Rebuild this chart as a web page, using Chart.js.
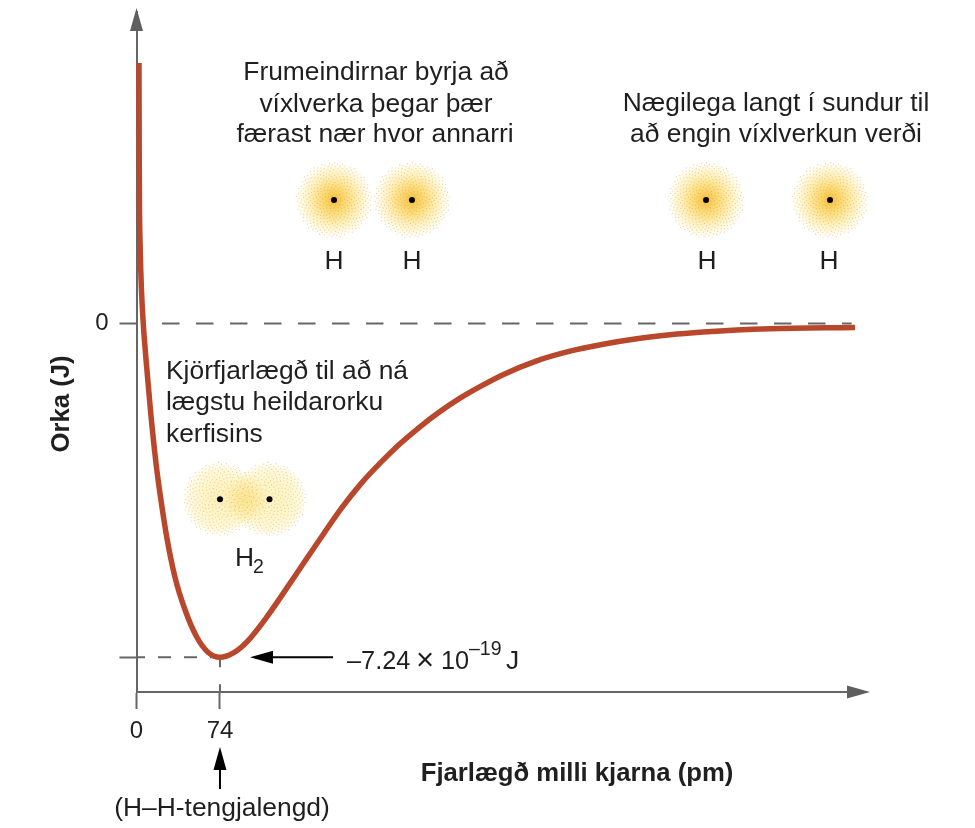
<!DOCTYPE html>
<html>
<head>
<meta charset="utf-8">
<title>Orka</title>
<script src="https://cdn.jsdelivr.net/npm/chart.js@4/dist/chart.umd.min.js"></script>
<style>
  html, body { margin: 0; padding: 0; background: #fff; }
  canvas { display: block; }
</style>
</head>
<body>
<canvas id="grafOrka" width="975" height="828"></canvas>
<script>
// gildi lesin af myndinni
var fjarlaegd = [2.2, 2.4, 2.6, 3.3, 4.4, 6, 9, 12.6, 17.3, 20.8, 26.8, 34.1, 43, 53.4, 63.4, 74, 85.5, 97.7, 115.4, 133.2, 149.4, 165.6, 181.9, 198.1, 215.9, 233.6, 251.3, 269.1, 286.8, 304.5, 324.9, 354.8, 384.3, 413.6, 443.4, 473, 502.2, 532.1, 561.6, 637];
var orka = [5.65, 3.76, 2.68, 1.6, 0.73, 0, -0.94, -1.94, -3.03, -3.68, -4.63, -5.5, -6.21, -6.8, -7.13, -7.24, -7.15, -6.91, -6.37, -5.74, -5.15, -4.57, -4, -3.5, -3.03, -2.61, -2.24, -1.91, -1.62, -1.37, -1.11, -0.81, -0.6, -0.45, -0.33, -0.245, -0.185, -0.14, -0.113, -0.085];
var xTicks = [0, 74];
var yTicks = [0, -7.24];
var minOrka = -7.24;
var xMax = 646.7, yMax = 6.757, yMin = -7.993;
var nullLinaX = [22.6, 634];
var kjarniX = [175.1, 244.2, 504.9, 614.8, 74, 117.9];
var kjarniY = [2.68, 2.68, 2.68, 2.68, -3.81, -3.81];

function pts(xs, ys) {
    return xs.map(function (x, i) { return { x: x, y: ys[i] }; });
}

function ski(ctx, cx, cy, r, midja, mid2, dots) {
    // ský kringum kjarna
    var g = ctx.createRadialGradient(cx, cy, 0, cx, cy, r);
    g.addColorStop(0, midja);
    g.addColorStop(0.45, mid2);
    g.addColorStop(0.8, 'rgba(254,242,185,0.5)');
    g.addColorStop(1, 'rgba(255,250,225,0)');
    ctx.fillStyle = g;
    ctx.beginPath();
    ctx.arc(cx, cy, r, 0, Math.PI * 2);
    ctx.fill();
    ctx.fillStyle = 'rgba(205,140,50,0.4)';
    for (var i = 1; i < dots; i++) {
        var d = r * 0.97 * Math.sqrt(i / dots);
        var a = i * 2.39996;
        ctx.beginPath();
        ctx.arc(cx + d * Math.cos(a), cy + d * Math.sin(a), 0.6, 0, Math.PI * 2);
        ctx.fill();
    }
}

function oddur(ctx, x, y, dx, dy, lengd, breidd, litur) {
    // þríhyrningur, x,y er oddurinn
    ctx.fillStyle = litur;
    ctx.beginPath();
    ctx.moveTo(x, y);
    ctx.lineTo(x - dx * lengd - dy * breidd, y - dy * lengd - dx * breidd);
    ctx.lineTo(x - dx * lengd + dy * breidd, y - dy * lengd + dx * breidd);
    ctx.closePath();
    ctx.fill();
}

var teikning = {
    id: 'teikning',
    beforeDatasetsDraw: function (chart) {
        var ctx = chart.ctx, sx = chart.scales.x, sy = chart.scales.y;
        ctx.save();
        for (var i = 0; i < 4; i++) {
            ski(ctx, sx.getPixelForValue(kjarniX[i]), sy.getPixelForValue(kjarniY[i]), 39, 'rgba(247,188,45,0.95)', 'rgba(252,219,110,0.75)', 420);
        }
        // H2 er fölara, þéttast í miðjunni
        var a = sx.getPixelForValue(kjarniX[4]), b = sx.getPixelForValue(kjarniX[5]), y = sy.getPixelForValue(kjarniY[4]);
        ski(ctx, a, y, 38, 'rgba(253,233,150,0.6)', 'rgba(254,238,165,0.6)', 360);
        ski(ctx, b, y, 38, 'rgba(253,233,150,0.6)', 'rgba(254,238,165,0.6)', 360);
        ski(ctx, (a + b) / 2, y, 26, 'rgba(251,218,105,0.6)', 'rgba(252,226,130,0.4)', 100);
        ctx.restore();
    },
    afterDraw: function (chart) {
        var ctx = chart.ctx, sx = chart.scales.x, sy = chart.scales.y, ca = chart.chartArea;
        ctx.save();
        // örvar á ásum
        oddur(ctx, ca.left, ca.top - 4, 0, -1, 23, 6.5, '#5f5f5f');
        oddur(ctx, ca.right + 4, ca.bottom, 1, 0, 23, 6.5, '#5f5f5f');

        // ör að lágmarki
        var my = sy.getPixelForValue(minOrka), mx = sx.getPixelForValue(74);
        ctx.strokeStyle = '#000';
        ctx.lineWidth = 2;
        ctx.beginPath();
        ctx.moveTo(333, my);
        ctx.lineTo(265, my);
        ctx.moveTo(mx, 789);
        ctx.lineTo(mx, 762);
        ctx.stroke();
        oddur(ctx, 250, my, -1, 0, 23, 6.5, '#000');
        oddur(ctx, mx, 747, 0, -1, 23, 6.5, '#000');

        // textar
        ctx.fillStyle = '#1f1f1f';
        ctx.textBaseline = 'middle';
        ctx.font = '26.4px "Liberation Sans"';
        ctx.textAlign = 'center';
        ctx.fillText('Frumeindirnar byrja að', 376, 73);
        ctx.fillText('víxlverka þegar þær', 376, 105);
        ctx.fillText('færast nær hvor annarri', 375, 135);
        ctx.fillText('Nægilega langt í sundur til', 776, 104);
        ctx.fillText('að engin víxlverkun verði', 776, 135);
        ctx.fillText('H', 334, 262);
        ctx.fillText('H', 412, 262);
        ctx.fillText('H', 707, 262);
        ctx.fillText('H', 829, 262);
        ctx.fillText('(H–H-tengjalengd)', 222, 809);
        ctx.textAlign = 'left';
        ctx.fillText('Kjörfjarlægð til að ná', 166, 372);
        ctx.fillText('lægstu heildarorku', 166, 403);
        ctx.fillText('kerfisins', 166, 435);
        ctx.fillText('H', 235, 559);
        ctx.fillText('J', 506, 662);
        ctx.font = '25.3px "Liberation Sans"';
        ctx.fillText('–7.24', 347, 662);
        ctx.fillText('10', 441, 662);
        ctx.font = '31px "Liberation Sans"';
        ctx.fillText('×', 416, 661);
        ctx.font = '19.5px "Liberation Sans"';
        ctx.fillText('2', 253, 568);
        ctx.fillText('–19', 469, 650);

        ctx.font = 'bold 25.7px "Liberation Sans"';
        ctx.textAlign = 'center';
        ctx.fillText('Fjarlægð milli kjarna (pm)', 577, 774);
        ctx.translate(62, 404);
        ctx.rotate(-Math.PI / 2);
        ctx.fillText('Orka (J)', 0, 0);
        ctx.restore();
    }
};

var ctx = document.getElementById('grafOrka').getContext('2d');
var myChart = new Chart(ctx, {
    type: 'line',
    plugins: [teikning],
    data: {
        datasets: [
            {
                label: 'Kjarnar',
                type: 'scatter',
                data: pts(kjarniX, kjarniY),
                pointRadius: 3,
                pointBackgroundColor: '#000',
                pointBorderWidth: 0
            },
            {
                label: 'Orka (J)',
                data: pts(fjarlaegd, orka),
                borderColor: '#b9472b',
                borderWidth: 5.5,
                cubicInterpolationMode: 'monotone',
                pointRadius: 0,
                borderCapStyle: 'butt'
            },
            {
                label: 'Núll',
                data: pts(nullLinaX, [0, 0]),
                borderColor: '#666',
                borderWidth: 2,
                borderDash: [17.5, 16.5],
                pointRadius: 0
            },
            {
                label: 'Lágmark',
                data: pts([0, 74], [minOrka, minOrka]),
                borderColor: '#666',
                borderWidth: 2,
                borderDash: [13, 13],
                borderDashOffset: 4.5,
                pointRadius: 0
            },
            {
                label: 'Lágmark x',
                data: pts([74, 74], [minOrka, yMin]),
                borderColor: '#666',
                borderWidth: 2,
                borderDash: [10, 17],
                pointRadius: 0
            }
        ]
    },
    options: {
        responsive: false,
        animation: false,
        clip: false,
        layout: { autoPadding: false, padding: { top: 12, right: 109, bottom: 0, left: 0 } },
        plugins: {
            legend: { display: false },
            tooltip: { enabled: false },
            title: { display: false }
        },
        scales: {
            x: {
                type: 'linear',
                min: 0,
                max: xMax,
                afterFit: function (s) { s.height = 136; s.paddingLeft = 0; s.paddingRight = 0; },
                afterBuildTicks: function (s) { s.ticks = xTicks.map(function (v) { return { value: v }; }); },
                border: { color: '#666', width: 2 },
                grid: { drawOnChartArea: false, tickLength: 17, tickColor: '#666', tickWidth: 2 },
                ticks: { autoSkip: false, maxRotation: 0, padding: 8, color: '#1f1f1f', font: { family: 'Liberation Sans', size: 24 } }
            },
            y: {
                type: 'linear',
                min: yMin,
                max: yMax,
                afterFit: function (s) { s.width = 136.5; s.paddingTop = 0; s.paddingBottom = 0; },
                afterBuildTicks: function (s) { s.ticks = yTicks.map(function (v) { return { value: v }; }); },
                border: { color: '#666', width: 2 },
                grid: { drawOnChartArea: false, tickLength: 17, tickColor: '#666', tickWidth: 2 },
                ticks: {
                    autoSkip: false,
                    padding: 11,
                    color: '#1f1f1f',
                    font: { family: 'Liberation Sans', size: 24 },
                    callback: function (v) { return v === 0 ? '0' : ''; }
                }
            }
        }
    }
});
</script>
</body>
</html>
